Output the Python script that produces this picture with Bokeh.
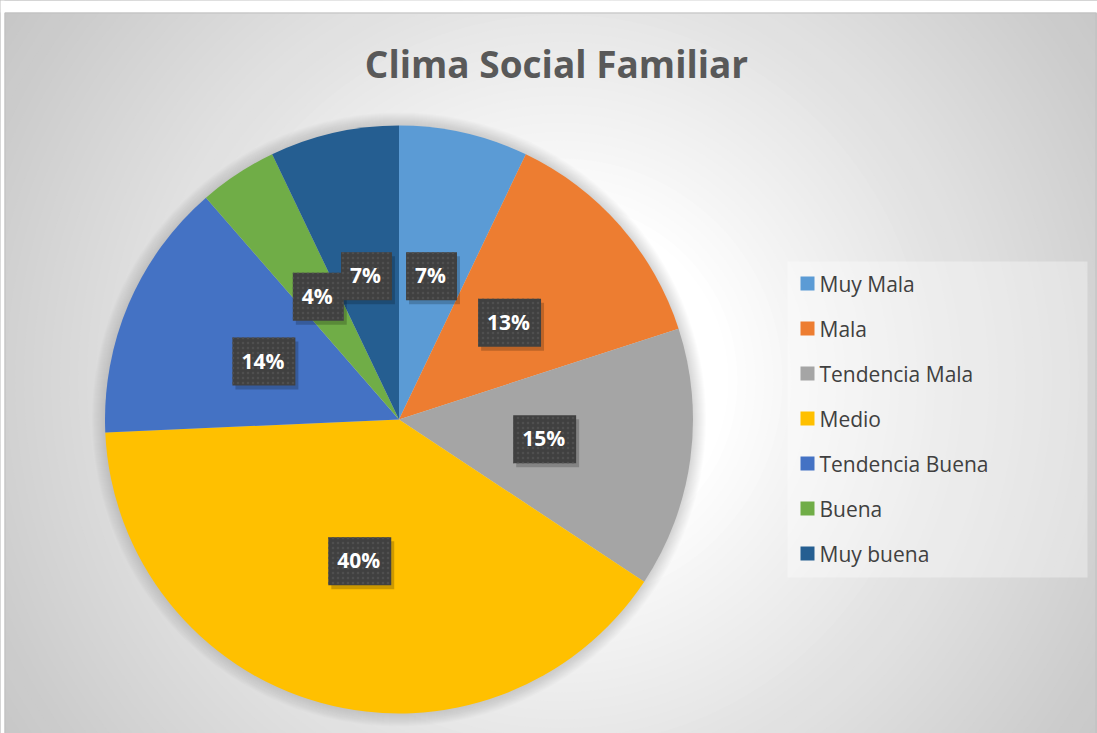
import numpy as np
from bokeh.plotting import figure
from bokeh.models import Range1d, ColumnDataSource
from bokeh.core.properties import value
from bokeh.embed import file_html
from bokeh.resources import INLINE

# ---- data ----
title_text = "Clima Social Familiar"
categories = ["Muy Mala", "Mala", "Tendencia Mala", "Medio",
              "Tendencia Buena", "Buena", "Muy buena"]
values = [7.1, 12.9, 14.3, 40.0, 14.3, 4.3, 7.1]
labels = ["7%", "13%", "15%", "40%", "14%", "4%", "7%"]
colors = ["#5B9BD5", "#ED7D31", "#A5A5A5", "#FFC000",
          "#4472C4", "#70AD47", "#255E91"]

# ---- layout (pixel-based data space) ----
W, H = 1097, 733


def Y(py):
    return H - py


p = figure(width=W, height=H, x_range=Range1d(0, W), y_range=Range1d(0, H),
           output_backend="svg", toolbar_location=None,
           x_axis_location=None, y_axis_location=None, min_border=0,
           outline_line_color=None, background_fill_color="white",
           border_fill_color="white")
p.grid.visible = False

# radial gradient background
radii = np.linspace(950, 150, 90)
gcols = []
for r in radii:
    t = min(max((r - 170) / (680 - 170), 0.0), 1.0)
    g = int(round(255 - (t ** 0.9) * (255 - 197)))
    gcols.append("#%02x%02x%02x" % (g, g, g))
p.circle(x=[560] * len(radii), y=[Y(380)] * len(radii), radius=radii,
         fill_color=gcols, line_color=None)
# white margins around the chart panel and panel outline
p.quad(left=[0], right=[W], bottom=[Y(12)], top=[H], fill_color="white", line_color=None)
p.quad(left=[0], right=[4], bottom=[0], top=[H], fill_color="white", line_color=None)
p.quad(left=[4.5], right=[1095.5], bottom=[Y(740)], top=[Y(12.5)], fill_color=None,
       line_color="#c0c0c0", line_width=1)

# pie geometry
cx, cy, R = 398.5, Y(419), 294
vals = np.array(values, dtype=float)
total = vals.sum()
cum = np.cumsum(vals)
starts = np.pi / 2 - 2 * np.pi * (cum - vals) / total
ends = np.pi / 2 - 2 * np.pi * cum / total
mids = (starts + ends) / 2

# soft halo around the pie
hr = [R + k for k in range(13, 0, -1)]
p.circle(x=[cx] * len(hr), y=[cy] * len(hr), radius=hr, fill_color="#7f7f7f",
         fill_alpha=0.022, line_color=None)

src = ColumnDataSource(dict(cat=categories, val=values, start=starts, end=ends,
                            color=colors, label=labels,
                            lx=cx + 0.5 * R * np.cos(mids),
                            ly=cy + 0.5 * R * np.sin(mids)))
p.wedge(x=cx, y=cy, radius=R, start_angle="start", end_angle="end",
        direction="clock", fill_color="color", line_color=None, source=src)

# data labels: shadow + box
p.text(x="lx", y="ly", text="label", source=src, text_align="center",
       text_baseline="middle", text_font=value("Open Sans"),
       text_font_style="bold", text_font_size=value("21px"), text_alpha=0,
       x_offset=3, y_offset=4, padding=[9, 11, 9, 11],
       background_fill_color="black", background_fill_alpha=0.2)
p.text(x="lx", y="ly", text="label", source=src, text_align="center",
       text_baseline="middle", text_font=value("Open Sans"),
       text_font_style="bold", text_font_size=value("21px"), text_color="white",
       padding=[9, 11, 9, 11],
       background_fill_color="#404040", background_hatch_pattern="dot",
       background_hatch_color="#4f4f4f", background_hatch_scale=5,
       background_hatch_weight=1)

# title
p.text(x=[556], y=[Y(63)], text=[title_text], text_align="center",
       text_baseline="middle", text_font=value("Open Sans"),
       text_font_style="bold", text_font_size=value("37px"), text_color="#595959")

# legend
p.quad(left=[787], right=[1087], bottom=[Y(577)], top=[Y(261)], fill_color="white",
       fill_alpha=0.35, line_color=None)
ly = [Y(283 + 45 * i) for i in range(len(categories))]
p.rect(x=[807] * len(categories), y=ly, width=14, height=14, fill_color=colors,
       line_color=None)
p.text(x=[819] * len(categories), y=ly, text=categories, text_align="left",
       text_baseline="middle", text_font=value("Open Sans"),
       text_font_size=value("21px"), text_color="#404040")

open("out.html", "w").write(file_html(p, INLINE))
